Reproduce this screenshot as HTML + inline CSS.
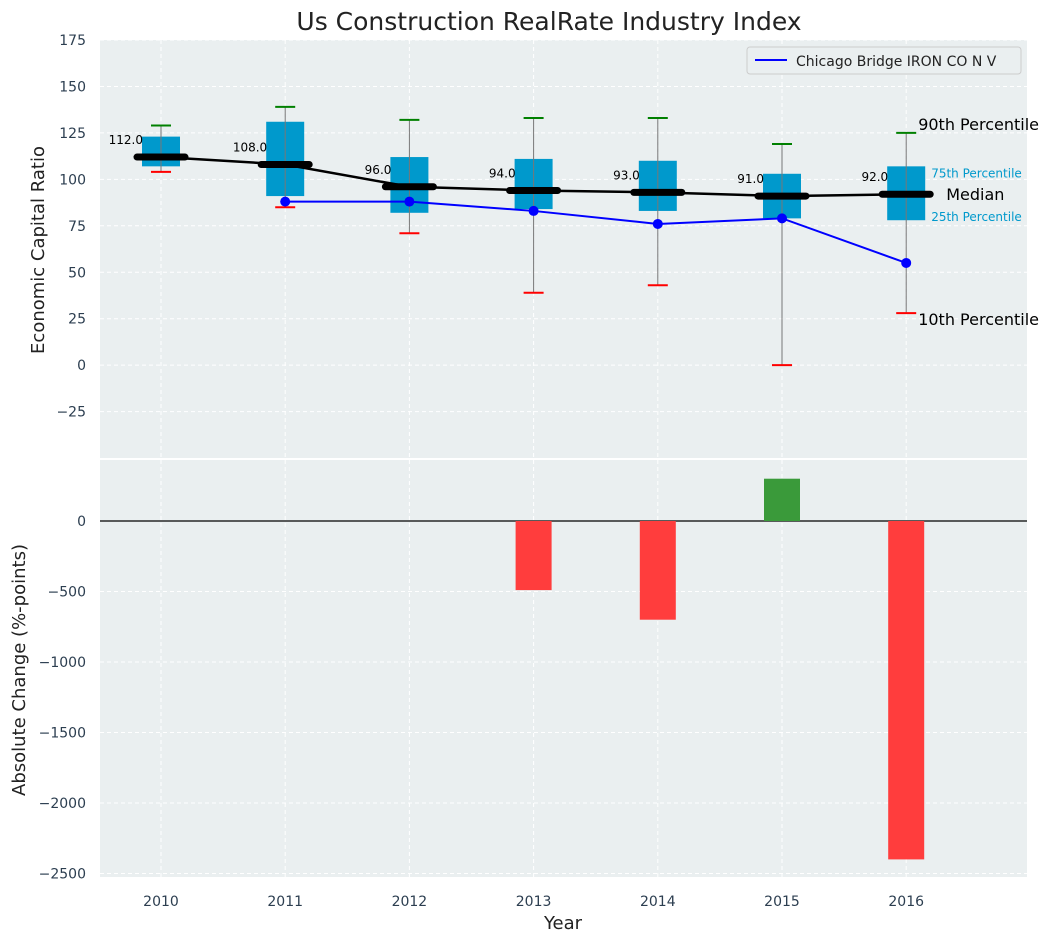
<!DOCTYPE html>
<html><head><meta charset="utf-8"><style>
body{margin:0;background:#fff;font-family:"Liberation Sans","DejaVu Sans",sans-serif;}
svg text{font-family:"DejaVu Sans","Liberation Sans",sans-serif;}
</style></head><body>
<svg id="chart" width="1053" height="942" xmlns="http://www.w3.org/2000/svg">
<text x="549" y="30" font-size="25" text-anchor="middle" fill="#222">Us Construction RealRate Industry Index</text>
<rect x="100" y="40" width="927" height="418" fill="#eaeff0"/>
<rect x="100" y="460" width="927" height="417" fill="#eaeff0"/>
<g id="topg"></g><g id="botg"></g>
<text transform="translate(44,250) rotate(-90)" font-size="18" text-anchor="middle" fill="#222">Economic Capital Ratio</text>
<text transform="translate(25,670) rotate(-90)" font-size="18" text-anchor="middle" fill="#222">Absolute Change (%-points)</text>
<text x="563" y="929" font-size="18" text-anchor="middle" fill="#222">Year</text>
<g>
<rect x="747" y="47" width="274" height="27" rx="3" fill="#eaeff0" stroke="#ccc"/>
<line x1="755" y1="60" x2="787" y2="60" stroke="#0000ff" stroke-width="2"/>
<text x="796" y="66" font-size="14" fill="#222">Chicago Bridge IRON CO N V</text>
</g>
</svg>
<script>
const years=[2010,2011,2012,2013,2014,2015,2016];
const p10=[104,85,71,39,43,0,28];
const p25=[107,91,82,84,83,79,78];
const medians=[112,108,96,94,93,91,92];
const p75=[123,131,112,111,110,103,107];
const p90=[129,139,132,133,133,119,125];
const company=[null,88,88,83,76,79,55];
const changes=[0,0,0,-490,-700,300,-2400];
const topTicks=[-25,0,25,50,75,100,125,150,175];
const botTicks=[-2500,-2000,-1500,-1000,-500,0];
const NS="http://www.w3.org/2000/svg";
const X=i=>161+i*124.2;
const Y=v=>40+(175-v)*1.858;
const Y2=v=>521-v*0.141;
function mk(p,t,a){const e=document.createElementNS(NS,t);for(const k in a)e.setAttribute(k,a[k]);p.appendChild(e);return e;}
const gTop=document.getElementById('topg'),gBot=document.getElementById('botg');
topTicks.forEach(t=>{mk(gTop,'line',{x1:100,x2:1027,y1:Y(t),y2:Y(t),stroke:'#fff','stroke-dasharray':'4,3'});
const tx=mk(gTop,'text',{x:86,y:Y(t)+5,'font-size':14,'text-anchor':'end',fill:'#2c3e50'});tx.textContent=t<0?'\u2212'+(-t):t;

});
botTicks.forEach(t=>{mk(gBot,'line',{x1:100,x2:1027,y1:Y2(t),y2:Y2(t),stroke:'#fff','stroke-dasharray':'4,3'});
const tx=mk(gBot,'text',{x:86,y:Y2(t)+5,'font-size':14,'text-anchor':'end',fill:'#2c3e50'});tx.textContent=t<0?'\u2212'+(-t):t;

});
years.forEach((y,i)=>{mk(gTop,'line',{x1:X(i),x2:X(i),y1:40,y2:458,stroke:'#fff','stroke-dasharray':'4,3'});
mk(gBot,'line',{x1:X(i),x2:X(i),y1:460,y2:877,stroke:'#fff','stroke-dasharray':'4,3'});
const tx=mk(gBot,'text',{x:X(i),y:906,'font-size':14,'text-anchor':'middle',fill:'#2c3e50'});tx.textContent=y;

});
mk(gBot,'line',{x1:100,x2:1027,y1:Y2(0),y2:Y2(0),stroke:'#000','stroke-width':1.2});
years.forEach((y,i)=>{const x=X(i);
const b=mk(gTop,'rect',{x:x-19,y:Y(p75[i]),width:38,height:Y(p25[i])-Y(p75[i]),fill:'#0099cc'});


mk(gTop,'line',{x1:x,x2:x,y1:Y(p10[i]),y2:Y(p90[i]),stroke:'#777','stroke-width':1});
mk(gTop,'line',{x1:x-10,x2:x+10,y1:Y(p90[i]),y2:Y(p90[i]),stroke:'green','stroke-width':2});
mk(gTop,'line',{x1:x-10,x2:x+10,y1:Y(p10[i]),y2:Y(p10[i]),stroke:'red','stroke-width':2});
const t=mk(gTop,'text',{x:x-18,y:Y(medians[i])-13,'font-size':12,'text-anchor':'end',fill:'#000'});t.textContent=medians[i].toFixed(1);

});
const mp=mk(gTop,'polyline',{points:medians.map((m,i)=>X(i)+','+Y(m)).join(' '),fill:'none',stroke:'#000','stroke-width':2.5});


years.forEach((y,i)=>{mk(gTop,'line',{x1:X(i)-24,x2:X(i)+24,y1:Y(medians[i]),y2:Y(medians[i]),stroke:'#000','stroke-width':7,'stroke-linecap':'round'});});
const cpts=company.map((v,i)=>v==null?null:X(i)+','+Y(v)).filter(p=>p);
const cl=mk(gTop,'polyline',{points:cpts.join(' '),fill:'none',stroke:'#0000ff','stroke-width':2});


company.forEach((v,i)=>{if(v==null)return;const c=mk(gTop,'circle',{cx:X(i),cy:Y(v),r:5,fill:'#0000ff'});

});
const L=6,xl=X(L);
[[xl+12,Y(p90[L])-3,'90th Percentile',16,'#000'],[xl+12,Y(p10[L])+12,'10th Percentile',16,'#000'],
[xl+40,Y(medians[L])+6,'Median',16,'#000'],[xl+25,Y(p75[L])+11,'75th Percentile',12,'#0099cc'],
[xl+25,Y(p25[L])+1,'25th Percentile',12,'#0099cc']].forEach(a=>{const t=mk(gTop,'text',{x:a[0],y:a[1],'font-size':a[3],fill:a[4]});t.textContent=a[2];

});
changes.forEach((v,i)=>{if(v===0)return;const r=mk(gBot,'rect',{x:X(i)-18,y:Math.min(Y2(v),Y2(0)),width:36,height:Math.abs(Y2(v)-Y2(0)),fill:v<0?'#ff3d3d':'#3a9a3a'});

});
</script>
</body></html>
